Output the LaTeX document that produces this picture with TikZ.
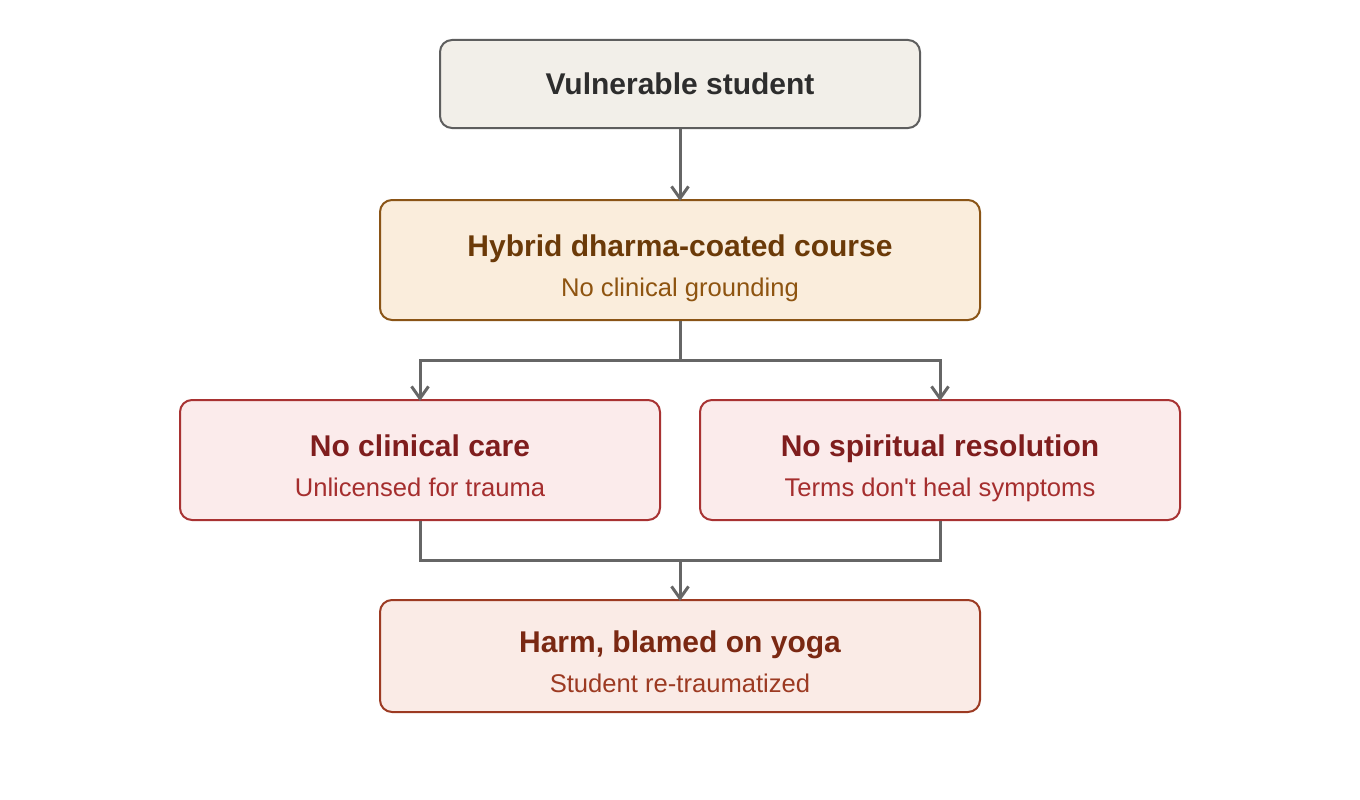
\documentclass[tikz,border=0pt]{standalone}
\usepackage{fontspec}
\setmainfont{Liberation Sans}
\usetikzlibrary{arrows.meta}
\definecolor{grayfill}{HTML}{F2EFE9}
\definecolor{grayline}{HTML}{5E5E5E}
\definecolor{graytext}{HTML}{2D2D2D}
\definecolor{ambfill}{HTML}{FAEDDC}
\definecolor{ambline}{HTML}{8A5416}
\definecolor{ambtitle}{HTML}{6B3A08}
\definecolor{ambsub}{HTML}{8E5410}
\definecolor{redfill}{HTML}{FBEBEB}
\definecolor{redline}{HTML}{A83232}
\definecolor{redtitle}{HTML}{7F1D1D}
\definecolor{redsub}{HTML}{A52E2E}
\definecolor{rustfill}{HTML}{FAEBE6}
\definecolor{rustline}{HTML}{9C3A22}
\definecolor{rusttitle}{HTML}{7A2812}
\definecolor{rustsub}{HTML}{9C3A22}
\definecolor{conn}{HTML}{666666}
\tikzset{
  box/.style={draw, line width=2pt, rounded corners=12pt, inner sep=0pt},
  ttl/.style={anchor=base, inner sep=0pt, font=\fontsize{30}{34}\selectfont\bfseries},
  sub/.style={anchor=base, inner sep=0pt, font=\fontsize{25.6}{30}\selectfont},
  link/.style={draw=conn, line width=3pt},
  arr/.style={link, -{Straight Barb[length=12pt,width=17pt]}}
}
\begin{document}
\begin{tikzpicture}[x=1pt,y=-1pt]
\useasboundingbox (0,0) rectangle (1360,800);
% boxes
\node[box, draw=grayline, fill=grayfill, minimum width=480pt, minimum height=88pt] (top) at (680,84) {};
\node[ttl, text=graytext] (topt) at (680,94) {Vulnerable student};

\node[box, draw=ambline, fill=ambfill, minimum width=600pt, minimum height=120pt] (hyb) at (680,260) {};
\node[ttl, text=ambtitle] (hybt) at (680,256) {Hybrid dharma-coated course};
\node[sub, text=ambsub] (hybs) at (680,296) {No clinical grounding};

\node[box, draw=redline, fill=redfill, minimum width=480pt, minimum height=120pt] (cli) at (420,460) {};
\node[ttl, text=redtitle] (clit) at (420,456) {No clinical care};
\node[sub, text=redsub] (clis) at (420,496) {Unlicensed for trauma};

\node[box, draw=redline, fill=redfill, minimum width=480pt, minimum height=120pt] (spi) at (940,460) {};
\node[ttl, text=redtitle] (spit) at (940,456) {No spiritual resolution};
\node[sub, text=redsub] (spis) at (940,496) {Terms don\textquotesingle t heal symptoms};

\node[box, draw=rustline, fill=rustfill, minimum width=600pt, minimum height=112pt] (harm) at (680,656) {};
\node[ttl, text=rusttitle] (harmt) at (680,652) {Harm, blamed on yoga};
\node[sub, text=rustsub] (harms) at (680,692) {Student re-traumatized};

% connectors
\coordinate (split) at (680,360);
\coordinate (join) at (680,560);
\draw[arr] (top.south) -- ([yshift=-2pt]hyb.north);
\draw[link] (hyb.south) -- (split);
\draw[arr] (split) -| ([yshift=-2pt]cli.north);
\draw[arr] (split) -| ([yshift=-2pt]spi.north);
\draw[link] (cli.south) |- (join);
\draw[link] (spi.south) |- (join);
\draw[arr] (join) -- ([yshift=-2pt]harm.north);
\end{tikzpicture}
\end{document}
